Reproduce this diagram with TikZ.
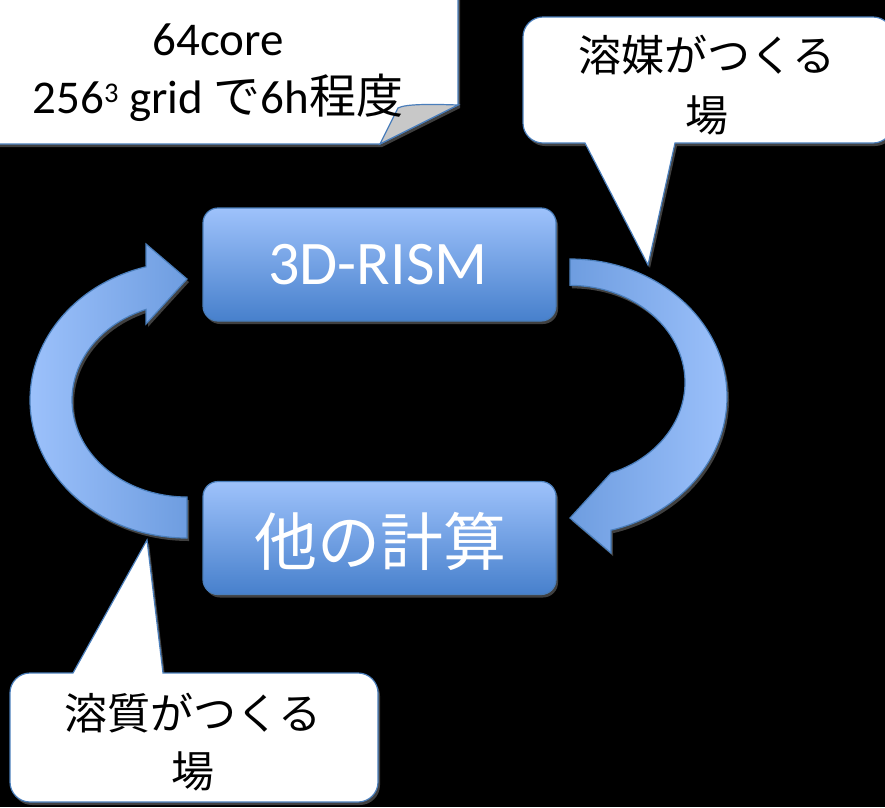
\documentclass[tikz,border=0pt]{standalone}
\usepackage{fontspec}
\setmainfont{Carlito}
\newfontfamily\jp{Noto Sans CJK JP}
\usetikzlibrary{shadows}
\definecolor{edge}{HTML}{4A7EBB}
\definecolor{boxtop}{HTML}{9EC2FB}
\definecolor{boxbot}{HTML}{4780CC}
\definecolor{arlight}{HTML}{9CC1FB}
\definecolor{ardark}{HTML}{6E9DE0}
\definecolor{foldgray}{HTML}{C8C8C8}
\tikzset{
  shadowed/.style={drop shadow={shadow xshift=2pt,shadow yshift=-3pt,fill=black!75!white,opacity=1}},
  box/.style={rounded corners=15pt, draw=edge, line width=1.2pt, top color=boxtop, bottom color=boxbot,
    minimum width=353pt, minimum height=113pt, shadowed},
  boxtext/.style={text=white, inner sep=0pt},
  bubble/.style={fill=white, draw=edge, line width=1.2pt, shadowed},
  blockarrow/.style={draw=edge, line width=1.2pt, shadowed},
  jptext/.style={font=\jp\fontsize{43}{50}\selectfont, inner sep=0pt, text=black},
  notetext/.style={font=\fontsize{47}{56}\selectfont, inner sep=0pt, text=black, anchor=base},
}
\begin{document}
\begin{tikzpicture}[x=1pt,y=1pt]
\useasboundingbox (0,0) rectangle (885,-807);
\fill[black] (0,0) rectangle (885,-807);

% top-left note with folded corner
\path[bubble] (-20,20) -- (458,20) -- (458,-105) -- (380,-144) -- (-20,-144) -- cycle;
\filldraw[fill=foldgray, draw=edge, line width=1.2pt] (380,-144) -- (398,-108)
  .. controls (405,-104) and (430,-104) .. (458,-105) -- cycle;
\node[notetext] (n1) at (218,-55) {64core};
\node[notetext] (n2) at (218,-113) {256\raisebox{11pt}{\fontsize{28.5}{30}\selectfont 3} grid {\jp で}6h{\jp 程度}};

% top-right callout
\path[bubble] (585,-143) -- (648,-265) -- (675,-143) -- (873,-143) arc[start angle=270, end angle=360, radius=20]
  -- (893,-37) arc[start angle=0, end angle=90, radius=20] -- (543,-17) arc[start angle=90, end angle=180, radius=20]
  -- (523,-123) arc[start angle=180, end angle=270, radius=20] -- cycle;
\node[jptext] (s1) at (707,-55) {溶媒がつくる};
\node[jptext] (s2) at (707,-115) {場};

% bottom-left callout
\path[bubble] (73,-673) -- (147,-540) -- (163,-673) -- (358,-673) arc[start angle=90, end angle=0, radius=20]
  -- (378,-782) arc[start angle=0, end angle=-90, radius=20] -- (30,-802) arc[start angle=270, end angle=180, radius=20]
  -- (10,-693) arc[start angle=180, end angle=90, radius=20] -- cycle;
\node[jptext] (u1) at (193,-713) {溶質がつくる};
\node[jptext] (u2) at (193,-771) {場};

% right curved arrow (3D-RISM -> other)
\path[blockarrow, left color=ardark, right color=arlight]
  (570,-259) arc[start angle=90, end angle=-74.9, x radius=157, y radius=138]
  -- (611,-553) -- (570,-518) -- (611,-473)
  arc[start angle=-69.1, end angle=90, x radius=115, y radius=97] -- cycle;

% left curved arrow (other -> 3D-RISM)
\path[blockarrow, left color=arlight, right color=ardark]
  (187,-538) arc[start angle=270, end angle=105.1, x radius=157, y radius=138]
  -- (146,-244) -- (187,-279) -- (146,-324)
  -- (146,-309.4) arc[start angle=110.9, end angle=270, x radius=115, y radius=97] -- cycle;

% boxes
\node[box] (rism) at (379.5,-264.5) {};
\node[boxtext, font=\fontsize{62}{72}\selectfont] (rismt) at (378,-265) {3D-RISM};
\node[box] (other) at (379.5,-538) {};
\node[boxtext, font=\jp\fontsize{63}{72}\selectfont] (othert) at (380,-541) {他の計算};
\end{tikzpicture}
\end{document}
